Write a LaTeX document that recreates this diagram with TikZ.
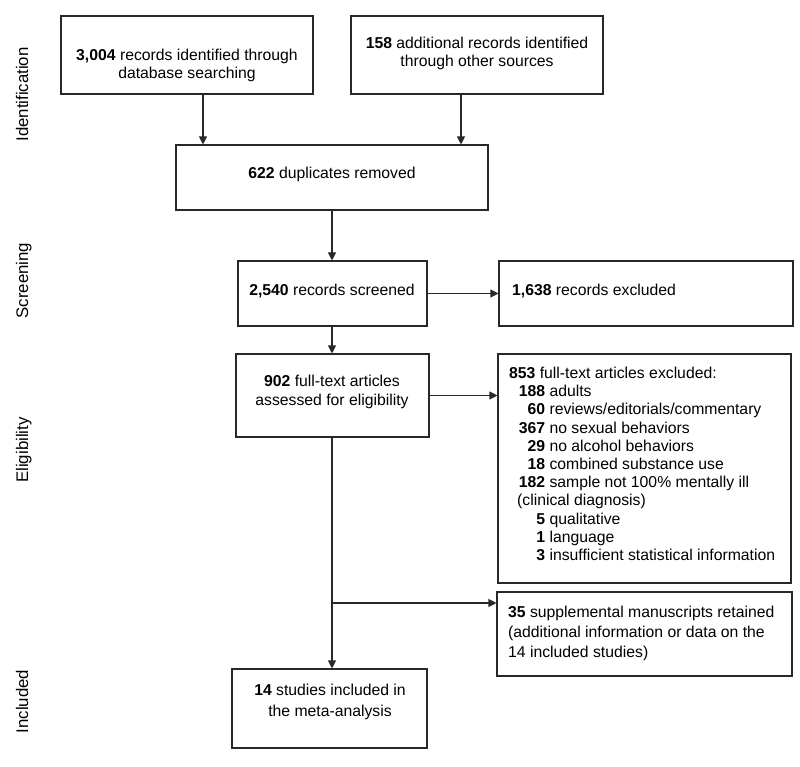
\documentclass[tikz,border=0pt]{standalone}
\usepackage{fontspec}
\setmainfont{Liberation Sans}
\usetikzlibrary{arrows.meta}
\definecolor{linec}{RGB}{40,40,40}
\newcommand\ctext[2]{\vtop{\baselineskip=#1pt\lineskiplimit=-20pt\halign{\hfil##\hfil\cr#2\crcr}}}
\newcommand\ltext[2]{\vtop{\baselineskip=#1pt\lineskiplimit=-20pt\halign{##\hfil\cr#2\crcr}}}
\newcommand\num[1]{\makebox[36pt][r]{\textbf{#1}}}
\begin{document}
\begin{tikzpicture}[x=1pt,y=-1pt,
  box/.style={draw=linec, line width=1.1pt, inner sep=0pt, rectangle},
  txt/.style={inner sep=0pt, font=\fontsize{15.75}{18.2}\selectfont},
  side/.style={inner sep=0pt, rotate=90, anchor=base, font=\fontsize{16.8}{20}\selectfont},
  conn/.style={draw=linec, line width=1.1pt},
  arr/.style={conn, -{Triangle[length=8pt,width=8pt]}}]
\useasboundingbox (0,0) rectangle (800,767);
\fill[white] (0,0) rectangle (800,767);

% side labels
\node[side] (sid) at (28,94.5) {Identification};
\node[side] (ssc) at (28,280.5) {Screening};
\node[side] (sel) at (28,450) {Eligibility};
\node[side] (sin) at (28,701.5) {Included};

% boxes
\node[box, minimum width=252pt, minimum height=78pt] (b1) at (187,55) {};
\node[box, minimum width=252pt, minimum height=78pt] (b2) at (477,55) {};
\node[box, minimum width=312pt, minimum height=65pt] (b3) at (332,177.5) {};
\node[box, minimum width=189pt, minimum height=65pt] (b4) at (332.5,293.5) {};
\node[box, minimum width=294pt, minimum height=65pt] (b5) at (646,293.5) {};
\node[box, minimum width=193pt, minimum height=83pt] (b6) at (332.5,395.5) {};
\node[box, minimum width=293pt, minimum height=229pt] (b7) at (644.5,468.5) {};
\node[box, minimum width=295pt, minimum height=84pt] (b8) at (644.5,634) {};
\node[box, minimum width=195pt, minimum height=79pt] (b9) at (329.5,708.5) {};

% texts
\node[txt, anchor=base] (t1) at (187,61) {\ctext{18}{\textbf{3,004} records identified through\cr database searching}};
\node[txt, anchor=base] (t2) at (477,49) {\ctext{18}{\textbf{158} additional records identified\cr through other sources}};
\node[txt, anchor=base] (t3) at (332,178.5) {\textbf{622} duplicates removed};
\node[txt, anchor=base] (t4) at (332,295.5) {\textbf{2,540} records screened};
\node[txt, anchor=base west] (t5) at (512,295.5) {\textbf{1,638} records excluded};
\node[txt, anchor=base] (t6) at (332,386.7) {\ctext{18.3}{\textbf{902} full-text articles\cr assessed for eligibility}};
\node[txt, anchor=base west] (t7) at (509,378.5) {\ltext{18.2}{\textbf{853} full-text articles excluded:\cr
\num{188} adults\cr
\num{60} reviews/editorials/commentary\cr
\num{367} no sexual behaviors\cr
\num{29} no alcohol behaviors\cr
\num{18} combined substance use\cr
\num{182} sample not 100\% mentally ill\cr
\hspace*{8pt}(clinical diagnosis)\cr
\num{5} qualitative\cr
\num{1} language\cr
\num{3} insufficient statistical information}};
\node[txt, anchor=base west] (t8) at (508,617) {\ltext{20}{\textbf{35} supplemental manuscripts retained\cr (additional information or data on the\cr 14 included studies)}};
\node[txt, anchor=base] (t9) at (330,695.5) {\ctext{21}{\textbf{14} studies included in\cr the meta-analysis}};

% connectors
\coordinate (br) at (332,603);
\draw[arr] (b1.south -| 203,0) -- (b3.north -| 203,0);
\draw[arr] (b2.south -| 461,0) -- (b3.north -| 461,0);
\draw[arr] (b3.south -| 332,0) -- (b4.north -| 332,0);
\draw[arr] (b4.east) -- (b5.west |- b4.east);
\draw[arr] (b4.south -| 332,0) -- (b6.north -| 332,0);
\draw[arr] (b6.east) -- (b7.west |- b6.east);
\draw[arr] (b6.south -| 332,0) -- (b9.north -| 332,0);
\draw[arr] (br) -- (b8.west |- br);
\end{tikzpicture}
\end{document}
